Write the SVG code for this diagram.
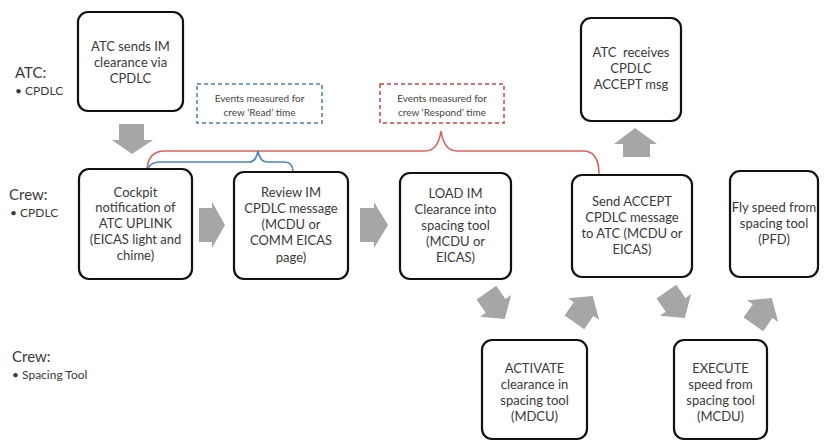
<svg xmlns="http://www.w3.org/2000/svg" width="827" height="443" viewBox="0 0 827 443">
<defs>
<style>
.box{fill:#fff;stroke:#111;stroke-width:2.2}
.t{font-family:Lato,"Open Sans",sans-serif;font-size:13px;fill:#3a3a3a;text-anchor:middle}
.lbl{font-family:Lato,"Open Sans",sans-serif;fill:#3a3a3a}
.small{font-family:Lato,"Open Sans",sans-serif;font-size:10px;fill:#444;text-anchor:middle}
.arr{fill:#a6a6a6}
</style>
<polygon id="da" points="-15,-12 1,-12 1,-19 17,0 1,19 1,12 -15,12"/>
</defs>
<rect width="827" height="443" fill="#fff"/>

<g id="lane-labels">
<text class="lbl" x="15" y="78" font-size="15">ATC:</text>
<text class="lbl" x="15" y="95" font-size="12">• CPDLC</text>
<text class="lbl" x="9" y="200" font-size="15">Crew:</text>
<text class="lbl" x="10" y="217" font-size="12">• CPDLC</text>
<text class="lbl" x="12" y="362" font-size="15">Crew:</text>
<text class="lbl" x="12" y="379" font-size="12">• Spacing Tool</text>
</g>

<g id="connectors">
<path d="M147,172 C147,160 152,151 165,151 L425,151 Q438,151 441,131 Q444,151 457,151 L583,151 C594,151 599,160 599,174" fill="none" stroke="#e0605c" stroke-width="1.6"/>
<path d="M147,172 C148,166 152,162 160,162 L249,162 Q256,162 258,151 Q260,162 267,162 L284,162 C290,162 293,166 293,172" fill="none" stroke="#4a85bf" stroke-width="1.6"/>
<polygon class="arr" points="119,124 144,124 144,140 153,140 132,154 112,140 119,140"/>
<polygon class="arr" points="623,157 650,157 650,144 657,144 635,128 614,144 623,144"/>
<polygon class="arr" points="199,208 212,208 212,202 225,225 212,248 212,242 199,242"/>
<polygon class="arr" points="360,208 374,208 374,202 388,225 374,248 374,242 360,242"/>
<use href="#da" class="arr" transform="translate(495,305) rotate(55)"/>
<use href="#da" class="arr" transform="translate(583,310) rotate(-55)"/>
<use href="#da" class="arr" transform="translate(675,304) rotate(55)"/>
<use href="#da" class="arr" transform="translate(762,312) rotate(-55)"/>
</g>

<g id="read-note">
<rect x="197" y="84" width="125" height="39" fill="#fff" stroke="#4a7fb0" stroke-width="1.5" stroke-dasharray="4,3"/>
<text class="small" x="259.5" y="102">Events measured for</text>
<text class="small" x="259.5" y="116">crew ‘Read’ time</text>
</g>
<g id="respond-note">
<rect x="380" y="84" width="124" height="39" fill="#fff" stroke="#d0403c" stroke-width="1.5" stroke-dasharray="4,3"/>
<text class="small" x="442" y="102">Events measured for</text>
<text class="small" x="442" y="116">crew ‘Respond’ time</text>
</g>

<g id="atc-sends">
<rect class="box" x="78" y="12" width="105" height="99" rx="10"/>
<text class="t" x="130.5" y="51">ATC sends IM</text>
<text class="t" x="130.5" y="67">clearance via</text>
<text class="t" x="130.5" y="83">CPDLC</text>
</g>
<g id="atc-receives">
<rect class="box" x="581" y="18" width="100" height="103" rx="10"/>
<text class="t" x="631" y="57" xml:space="preserve">ATC  receives</text>
<text class="t" x="631" y="73">CPDLC</text>
<text class="t" x="631" y="89">ACCEPT msg</text>
</g>
<g id="cockpit">
<rect class="box" x="79" y="169" width="113" height="110" rx="10"/>
<text class="t" x="135.5" y="197">Cockpit</text>
<text class="t" x="135.5" y="212">notification of</text>
<text class="t" x="135.5" y="228">ATC UPLINK</text>
<text class="t" x="135.5" y="244">(EICAS light and</text>
<text class="t" x="135.5" y="260">chime)</text>
</g>
<g id="review">
<rect class="box" x="234" y="172" width="114" height="107" rx="10"/>
<text class="t" x="291" y="197">Review IM</text>
<text class="t" x="291" y="213">CPDLC message</text>
<text class="t" x="291" y="229">(MCDU or</text>
<text class="t" x="291" y="245">COMM EICAS</text>
<text class="t" x="291" y="262">page)</text>
</g>
<g id="load">
<rect class="box" x="400" y="173" width="111" height="106" rx="10"/>
<text class="t" x="455.5" y="198">LOAD IM</text>
<text class="t" x="455.5" y="214">Clearance into</text>
<text class="t" x="455.5" y="230">spacing tool</text>
<text class="t" x="455.5" y="246">(MCDU or</text>
<text class="t" x="455.5" y="262">EICAS)</text>
</g>
<g id="send-accept">
<rect class="box" x="572" y="175" width="120" height="102" rx="10"/>
<text class="t" x="632" y="206">Send ACCEPT</text>
<text class="t" x="632" y="222">CPDLC message</text>
<text class="t" x="632" y="238">to ATC (MCDU or</text>
<text class="t" x="632" y="254">EICAS)</text>
</g>
<g id="fly-speed">
<rect class="box" x="730" y="171" width="88" height="106" rx="10"/>
<text class="t" x="774" y="212">Fly speed from</text>
<text class="t" x="774" y="228">spacing tool</text>
<text class="t" x="774" y="244">(PFD)</text>
</g>
<g id="activate">
<rect class="box" x="482" y="340" width="105" height="99" rx="10"/>
<text class="t" x="534.5" y="373">ACTIVATE</text>
<text class="t" x="534.5" y="389">clearance in</text>
<text class="t" x="534.5" y="405">spacing tool</text>
<text class="t" x="534.5" y="421">(MDCU)</text>
</g>
<g id="execute">
<rect class="box" x="674" y="340" width="93" height="99" rx="10"/>
<text class="t" x="720.5" y="373">EXECUTE</text>
<text class="t" x="720.5" y="389">speed from</text>
<text class="t" x="720.5" y="405">spacing tool</text>
<text class="t" x="720.5" y="421">(MCDU)</text>
</g>
</svg>
